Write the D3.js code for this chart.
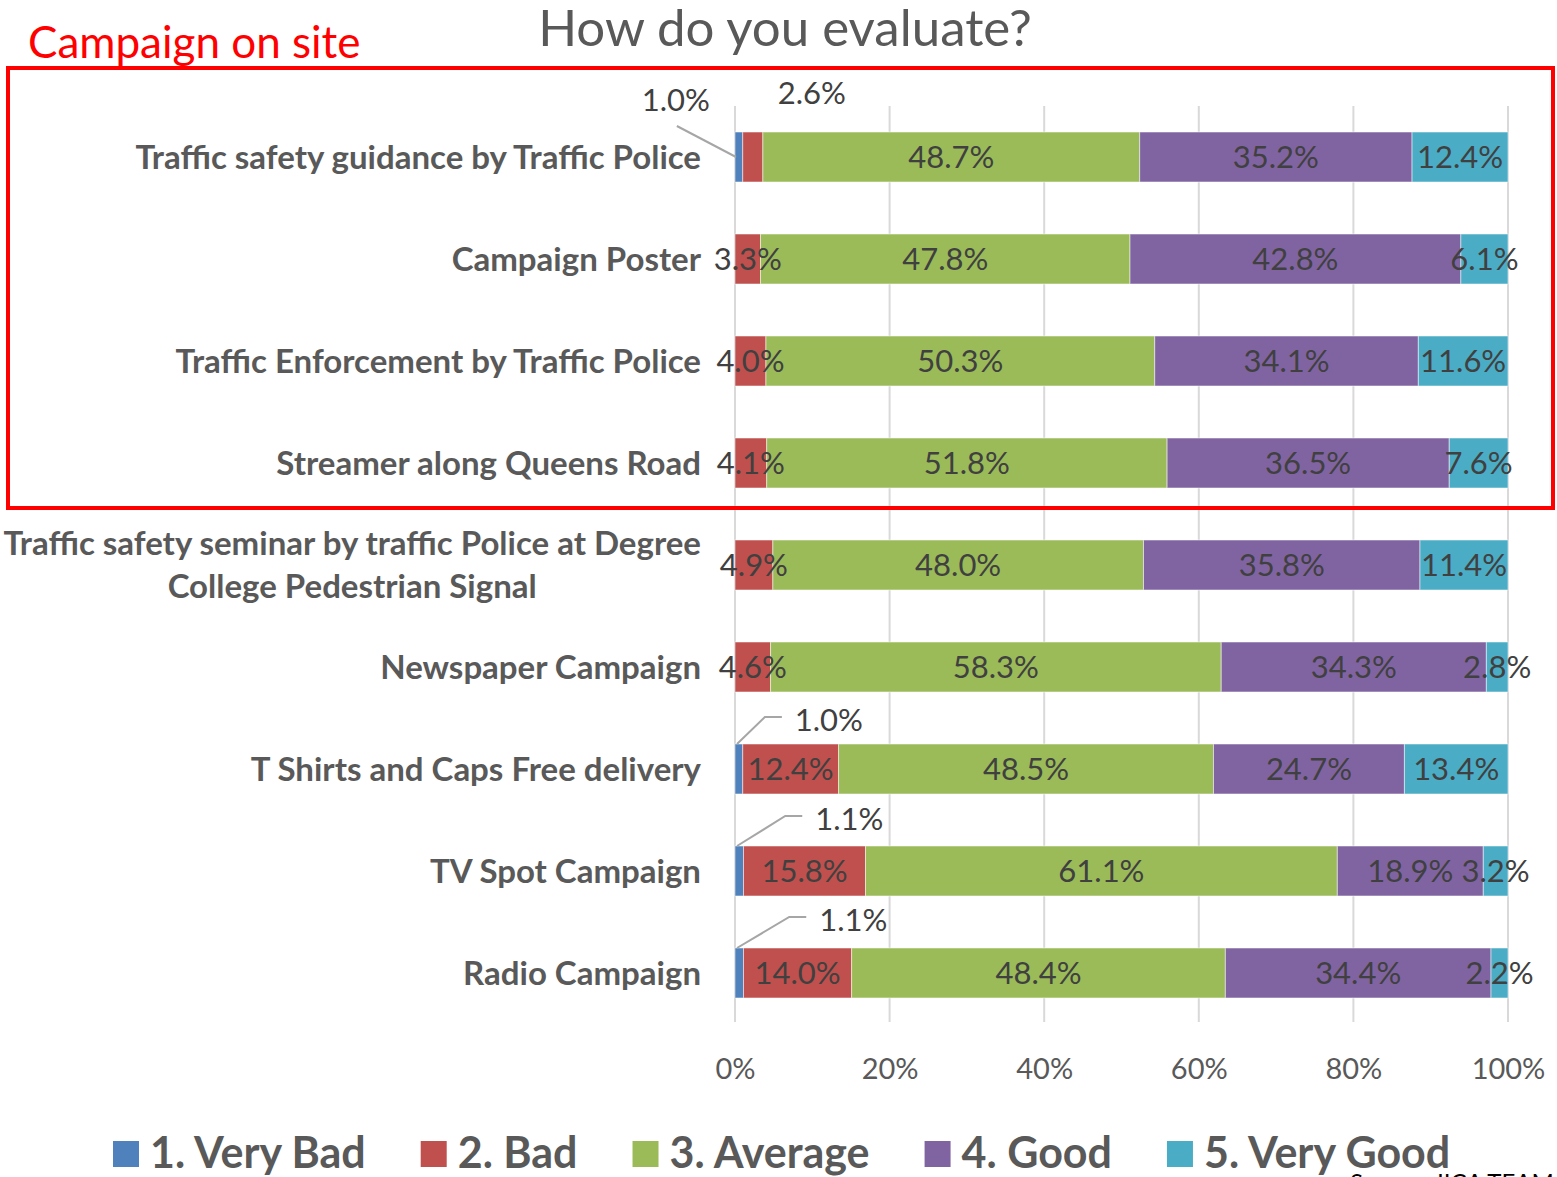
<!DOCTYPE html>
<html>
<head>
<meta charset="utf-8">
<script src="https://cdn.jsdelivr.net/npm/d3@7"></script>
<style>
  body { margin: 0; background: #fff; }
  svg { display: block; font-family: Lato, "Open Sans", sans-serif; }
</style>
</head>
<body>
<script>
// how people rated each campaign, in percent
var categories = [
  "Traffic safety guidance by Traffic Police",
  "Campaign Poster",
  "Traffic Enforcement by Traffic Police",
  "Streamer along Queens Road",
  "Traffic safety seminar by traffic Police at Degree|College Pedestrian Signal",
  "Newspaper Campaign",
  "T Shirts and Caps Free delivery",
  "TV Spot Campaign",
  "Radio Campaign"
]
var seriesNames = ["1. Very Bad", "2. Bad", "3. Average", "4. Good", "5. Very Good"]
var veryBad  = [1.0, 0, 0, 0, 0, 0, 1.0, 1.1, 1.1]
var bad      = [2.6, 3.3, 4.0, 4.1, 4.9, 4.6, 12.4, 15.8, 14.0]
var average  = [48.7, 47.8, 50.3, 51.8, 48.0, 58.3, 48.5, 61.1, 48.4]
var good     = [35.2, 42.8, 34.1, 36.5, 35.8, 34.3, 24.7, 18.9, 34.4]
var veryGood = [12.4, 6.1, 11.6, 7.6, 11.4, 2.8, 13.4, 3.2, 2.2]
var xTicks = [0, 0.2, 0.4, 0.6, 0.8, 1]

var colors = ["#4F81BD", "#C0504D", "#9BBB59", "#8064A2", "#4BACC6"]

// labels that excel pushed outside the bar (offset from segment centre)
var callouts = [
  {row: 0, series: 0, dx: -63, dy: -57, leader: "diag"},
  {row: 0, series: 1, dx: 59, dy: -64, leader: "none"},
  {row: 6, series: 0, dx: 90, dy: -49, leader: "elbow"},
  {row: 7, series: 0, dx: 110, dy: -52, leader: "elbow"},
  {row: 8, series: 0, dx: 114, dy: -53, leader: "elbow"}
]

var screen = {width: 1557, height: 1177}
var plot = {left: 735, right: 1508, top: 106, bottom: 1022}

var rows = categories.map(function(c, i) {
  return {name: c, vb: veryBad[i], b: bad[i], a: average[i], g: good[i], vg: veryGood[i], values: [veryBad[i], bad[i], average[i], good[i], veryGood[i]]}
})
var keys = ["vb", "b", "a", "g", "vg"]

var stacked = d3.stack().keys(keys).offset(d3.stackOffsetExpand)(rows)

var xScale = d3.scaleLinear().domain([0, 1]).range([plot.left, plot.right])
var yScale = d3.scaleBand().domain(categories).range([80, 1050]).paddingInner(0.51).paddingOuter(0.51)

var svg = d3.select("body").append("svg")
  .attr("width", screen.width)
  .attr("height", screen.height)

// gridlines
svg.append("g").selectAll("line")
  .data(xTicks)
  .enter().append("line")
  .attr("x1", function(d) { return xScale(d) })
  .attr("x2", function(d) { return xScale(d) })
  .attr("y1", plot.top)
  .attr("y2", plot.bottom)
  .attr("stroke", "#D9D9D9")
  .attr("stroke-width", 2)

// bars
var layers = svg.append("g").selectAll("g")
  .data(stacked)
  .enter().append("g")
  .attr("fill", function(d, i) { return colors[i] })

layers.selectAll("rect")
  .data(function(d) { return d })
  .enter().append("rect")
  .attr("x", function(d) { return xScale(d[0]) })
  .attr("y", function(d) { return yScale(d.data.name) })
  .attr("width", function(d) { return Math.max(0, xScale(d[1]) - xScale(d[0])) })
  .attr("height", yScale.bandwidth())
  .attr("stroke", "#fff")
  .attr("stroke-opacity", 0.5)
  .attr("stroke-width", 1)

// data labels
var labelData = []
stacked.forEach(function(layer, s) {
  layer.forEach(function(d, r) {
    var v = rows[r].values[s]
    if (v <= 0) return
    var cx = (xScale(d[0]) + xScale(d[1])) / 2
    var cy = yScale(d.data.name) + yScale.bandwidth() / 2
    var co = callouts.find(function(c) { return c.row === r && c.series === s })
    labelData.push({v: v, cx: cx, cy: cy, x0: xScale(d[0]), co: co, top: yScale(d.data.name)})
  })
})

var fmt = d3.format(".1f")
var labels = svg.append("g")
labels.selectAll("text")
  .data(labelData)
  .enter().append("text")
  .attr("x", function(d) { return d.co ? d.cx + d.co.dx : d.cx })
  .attr("y", function(d) { return d.co ? d.cy + d.co.dy : d.cy })
  .attr("dy", "0.35em")
  .attr("text-anchor", "middle")
  .attr("fill", "#404040")
  .style("font-size", "31px")
  .text(function(d) { return fmt(d.v) + "%" })

// leader lines for the outside labels
labelData.filter(function(d) { return d.co && d.co.leader !== "none" }).forEach(function(d) {
  var lx = d.cx + d.co.dx, ly = d.cy + d.co.dy
  var pts
  if (d.co.leader === "diag") {
    pts = [[lx + 1, ly + 26], [d.x0 + 1, d.cy]]
  } else {
    var left = lx - 34
    pts = [[left - 13, ly - 3], [left - 30, ly - 3], [d.x0 + 2, d.top]]
  }
  svg.append("path")
    .attr("d", d3.line()(pts))
    .attr("fill", "none")
    .attr("stroke", "#A6A6A6")
    .attr("stroke-width", 2)
})

// category labels
var catG = svg.append("g")
categories.forEach(function(c) {
  var lines = c.split("|")
  var cy = yScale(c) + yScale.bandwidth() / 2
  var t = catG.append("text")
    .attr("fill", "#595959")
    .style("font-size", "33px")
    .style("font-weight", "bold")
  if (lines.length === 1) {
    t.attr("x", 701).attr("y", cy).attr("dy", "0.35em").attr("text-anchor", "end").text(c)
  } else {
    t.attr("text-anchor", "middle")
    lines.forEach(function(l, i) {
      t.append("tspan").attr("y", cy + (i - (lines.length - 1) / 2) * 43).attr("dy", "0.35em").text(l)
    })
    var w = d3.max(t.selectAll("tspan").nodes(), function(n) { return n.getComputedTextLength() })
    t.selectAll("tspan").attr("x", 701 - w / 2)
  }
})

// x axis
var xAxis = d3.axisBottom(xScale).tickValues(xTicks).tickFormat(d3.format(".0%")).tickSize(0).tickPadding(0)
var axisG = svg.append("g")
  .attr("transform", "translate(0,1058)")
  .call(xAxis)
axisG.select(".domain").remove()
axisG.selectAll("text")
  .attr("fill", "#595959")
  .style("font-size", "29px")
  .style("font-family", "Lato, sans-serif")

// title
svg.append("text")
  .attr("x", 785)
  .attr("y", 46)
  .attr("text-anchor", "middle")
  .attr("fill", "#595959")
  .style("font-size", "51px")
  .text("How do you evaluate?")

// highlight box for campaign on site
svg.append("text")
  .attr("x", 28)
  .attr("y", 58)
  .attr("fill", "#FF0000")
  .style("font-size", "44px")
  .text("Campaign on site")

svg.append("rect")
  .attr("x", 8)
  .attr("y", 68)
  .attr("width", 1545)
  .attr("height", 440)
  .attr("fill", "none")
  .attr("stroke", "#FF0000")
  .attr("stroke-width", 4)

// legend
var legend = svg.append("g")
var lx = 113
seriesNames.forEach(function(name, i) {
  legend.append("rect")
    .attr("x", lx)
    .attr("y", 1141)
    .attr("width", 26)
    .attr("height", 26)
    .attr("fill", colors[i])
  var t = legend.append("text")
    .attr("x", lx + 37)
    .attr("y", 1168)
    .attr("fill", "#595959")
    .style("font-size", "43px")
    .style("font-weight", "bold")
    .text(name)
  lx = lx + 37 + t.node().getComputedTextLength() + 55
})

// source note, cut off at the bottom like the original
svg.append("text")
  .attr("x", 1350)
  .attr("y", 1191)
  .attr("fill", "#000")
  .style("font-size", "24px")
  .text("Source: JICA TEAM")
</script>
</body>
</html>
